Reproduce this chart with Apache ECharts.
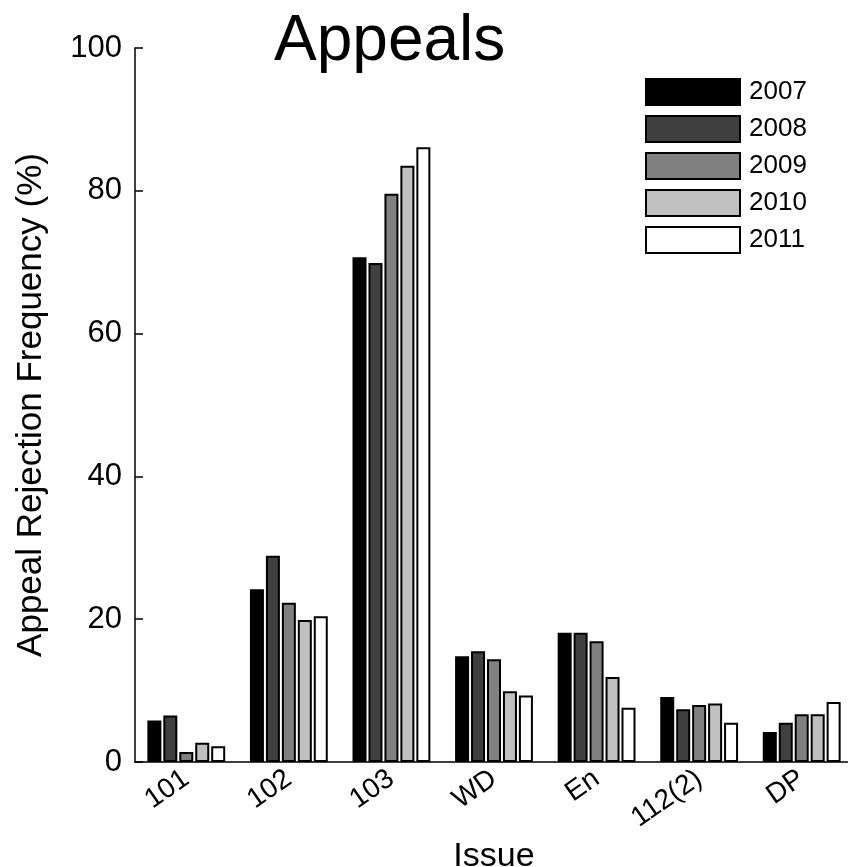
<!DOCTYPE html>
<html>
<head>
<meta charset="utf-8">
<script src="https://cdn.jsdelivr.net/npm/echarts@6/dist/echarts.min.js"></script>
<style>
html,body{margin:0;padding:0;background:#fff;}
#chart{width:848px;height:867px;}
</style>
</head>
<body>
<div id="chart"></div>
<script>
const categories = ['101', '102', '103', 'WD', 'En', '112(2)', 'DP'];
const years = ['2007', '2008', '2009', '2010', '2011'];
const v2007 = [5.8, 24.2, 70.7, 14.8, 18.1, 9.1, 4.2];
const v2008 = [6.5, 28.9, 69.9, 15.5, 18.1, 7.4, 5.5];
const v2009 = [1.4, 22.3, 79.6, 14.4, 16.9, 8.0, 6.7];
const v2010 = [2.7, 19.9, 83.5, 9.9, 11.9, 8.2, 6.7];
const v2011 = [2.2, 20.4, 86.1, 9.3, 7.6, 5.5, 8.4];
const yTicks = [0, 20, 40, 60, 80, 100];
const colors = ['#000000', '#404040', '#808080', '#c0c0c0', '#ffffff'];

const seriesValues = [v2007, v2008, v2009, v2010, v2011];
const FONT = '"Liberation Sans", Arial, Helvetica, sans-serif';

const chart = echarts.init(document.getElementById('chart'), null, {renderer: 'canvas'});
chart.setOption({
  animation: false,
  backgroundColor: '#ffffff',
  title: {
    text: 'Appeals',
    left: 269,
    top: 5,
    textStyle: {fontFamily: FONT, fontSize: 64, fontWeight: 'normal', color: '#000'}
  },
  legend: {
    orient: 'vertical',
    left: 640,
    top: 73,
    itemWidth: 94,
    itemHeight: 26,
    itemGap: 9,
    icon: 'rect',
    data: years,
    textStyle: {fontFamily: FONT, fontSize: 26, color: '#000', padding: [0, 0, 0, 4]}
  },
  grid: {left: 135, right: -5, top: 48, bottom: 105, containLabel: false, outerBoundsMode: 'none'},
  xAxis: {
    type: 'category',
    data: categories,
    name: 'Issue',
    nameLocation: 'middle',
    nameGap: 72,
    nameTextStyle: {fontFamily: FONT, fontSize: 34, color: '#000'},
    axisLine: {lineStyle: {color: '#000', width: 1.5}},
    axisTick: {show: false},
    axisLabel: {fontFamily: FONT, fontSize: 28, color: '#000', rotate: 35, margin: 14, interval: 0}
  },
  yAxis: {
    type: 'value',
    min: yTicks[0],
    max: yTicks[yTicks.length - 1],
    interval: 20,
    name: 'Appeal Rejection Frequency (%)',
    nameLocation: 'middle',
    nameGap: 86,
    nameTextStyle: {fontFamily: FONT, fontSize: 35, color: '#000'},
    axisLine: {show: true, lineStyle: {color: '#000', width: 1.5}},
    axisTick: {show: true, inside: true, length: 8, lineStyle: {color: '#000', width: 1.5}},
    axisLabel: {fontFamily: FONT, fontSize: 31, color: '#000', margin: 13},
    splitLine: {show: false}
  },
  series: years.map((y, i) => ({
    name: y,
    type: 'bar',
    data: seriesValues[i],
    barWidth: 14,
    barGap: '14%',
    itemStyle: {color: colors[i], borderColor: '#000', borderWidth: 2}
  }))
});
</script>
</body>
</html>
